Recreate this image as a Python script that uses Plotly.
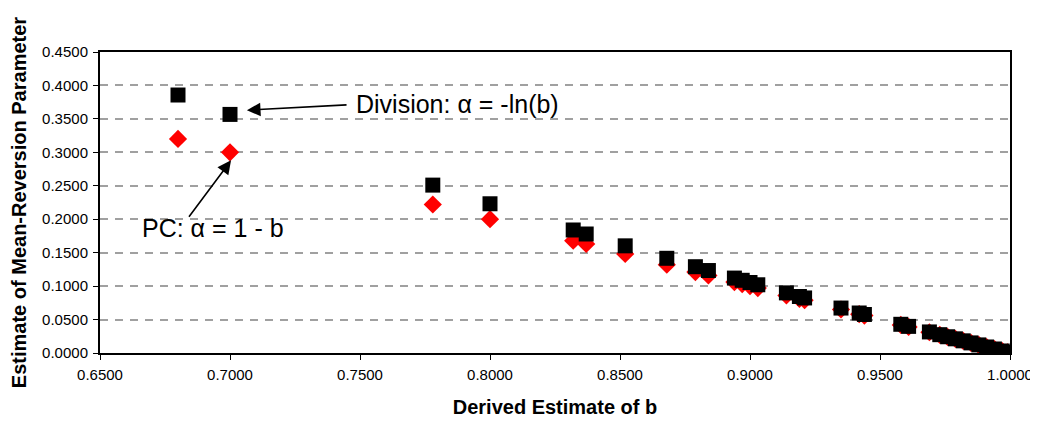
import plotly.graph_objects as go

b_est = [0.680, 0.700, 0.778, 0.800, 0.832, 0.837, 0.852, 0.868, 0.879, 0.884,
         0.894, 0.897, 0.900, 0.903, 0.914, 0.919, 0.921, 0.935, 0.942, 0.944,
         0.958, 0.961, 0.969, 0.973, 0.976, 0.979, 0.982, 0.985, 0.988, 0.991,
         0.994, 0.997, 0.999]
pc_alpha = [0.320, 0.300, 0.222, 0.200, 0.168, 0.163, 0.148, 0.132, 0.121, 0.116,
            0.106, 0.103, 0.100, 0.097, 0.086, 0.081, 0.079, 0.065, 0.058, 0.056,
            0.042, 0.039, 0.031, 0.027, 0.024, 0.021, 0.018, 0.015, 0.012, 0.009,
            0.006, 0.003, 0.001]
div_alpha = [0.3857, 0.3567, 0.2510, 0.2231, 0.1839, 0.1779, 0.1602, 0.1416, 0.1290, 0.1233,
             0.1120, 0.1087, 0.1054, 0.1020, 0.0899, 0.0845, 0.0823, 0.0672, 0.0598, 0.0576,
             0.0429, 0.0398, 0.0315, 0.0274, 0.0243, 0.0212, 0.0182, 0.0151, 0.0121, 0.0090,
             0.0060, 0.0030, 0.0010]

x_ticks = [0.65, 0.70, 0.75, 0.80, 0.85, 0.90, 0.95, 1.0]
x_title = "Derived Estimate of b"
y_title = "Estimate of Mean-Reversion Parameter"
div_label = "Division: α = -ln(b)"
pc_label = "PC: α = 1 - b"

FONT = "Liberation Sans, Arial, sans-serif"

fig = go.Figure()
fig.add_trace(go.Scatter(x=b_est, y=pc_alpha, mode="markers", name="PC",
                         marker=dict(symbol="diamond", size=14, color="#FF0000",
                                     line=dict(width=0))))
fig.add_trace(go.Scatter(x=b_est, y=div_alpha, mode="markers", name="Division",
                         marker=dict(symbol="square", size=15, color="#000000",
                                     line=dict(width=0))))

# arrows
fig.add_annotation(x=0.7065, y=0.3630, ax=0.7454, ay=0.3710, xref="x", yref="y",
                   axref="x", ayref="y", text="", showarrow=True,
                   arrowhead=2, arrowsize=1.7, arrowwidth=1.6, arrowcolor="black")
fig.add_annotation(x=0.7004, y=0.288, ax=0.6838, ay=0.2015, xref="x", yref="y",
                   axref="x", ayref="y", text="", showarrow=True,
                   arrowhead=2, arrowsize=1.7, arrowwidth=1.6, arrowcolor="black")
# labels
fig.add_annotation(x=0.7477, y=0.3716, xref="x", yref="y", text=div_label,
                   showarrow=False, xanchor="left", yanchor="middle",
                   font=dict(family=FONT, size=25, color="black"))
fig.add_annotation(x=0.6654, y=0.1866, xref="x", yref="y", text=pc_label,
                   showarrow=False, xanchor="left", yanchor="middle",
                   font=dict(family=FONT, size=25, color="black"))

# page body has an 8px margin, so the figure is sized/offset to compensate
fig.update_layout(
    width=1030, height=414,
    margin=dict(l=92, r=28, t=44, b=69),
    paper_bgcolor="white", plot_bgcolor="white",
    showlegend=False,
    font=dict(family=FONT, size=15, color="black"),
)
fig.update_xaxes(range=[0.65, 1.0], tickvals=x_ticks,
                 tickformat=".4f", showgrid=False, zeroline=False, automargin=False,
                 showline=True, linecolor="black", linewidth=2, mirror=True,
                 ticks="outside", ticklen=5, tickcolor="black", tickwidth=1,
                 ticklabelstandoff=2,
                 title=dict(text="<b>" + x_title + "</b>", font=dict(size=20), standoff=18))
fig.update_yaxes(range=[0, 0.45], dtick=0.05, tickformat=".4f", automargin=False,
                 showgrid=True, gridcolor="#A0A0A0", griddash="8px,7px", gridwidth=1.5,
                 zeroline=False,
                 showline=True, linecolor="black", linewidth=2, mirror=True,
                 ticks="outside", ticklen=5, tickcolor="black", tickwidth=1,
                 ticklabelstandoff=2,
                 title=dict(text="<b>" + y_title + "</b>", font=dict(size=20), standoff=12))

fig.write_html("out.html")
